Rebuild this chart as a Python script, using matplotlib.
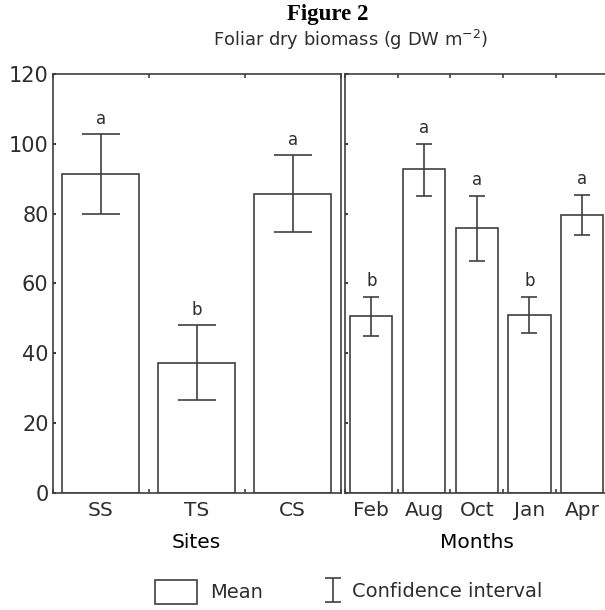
import matplotlib
matplotlib.use("Agg")
import matplotlib.pyplot as plt
from matplotlib.patches import Patch
from matplotlib.legend_handler import HandlerErrorbar
from matplotlib.container import ErrorbarContainer
import numpy as np

# data
sites = ["SS", "TS", "CS"]
site_mean = [91.3, 37.3, 85.7]
site_ci_low = [79.8, 26.7, 74.6]
site_ci_high = [102.7, 48.0, 96.7]
site_letters = ["a", "b", "a"]

months = ["Feb", "Aug", "Oct", "Jan", "Apr"]
month_mean = [50.5, 92.7, 75.8, 50.9, 79.5]
month_ci_low = [44.8, 85.1, 66.5, 45.7, 73.8]
month_ci_high = [56.2, 100.0, 85.1, 56.2, 85.3]
month_letters = ["b", "a", "a", "b", "a"]

col = "#3f3f3f"
txt = "#2e2e2e"
plt.rcParams["font.family"] = ["DejaVu Sans"]
plt.rcParams["text.color"] = txt
plt.rcParams["xtick.color"] = txt
plt.rcParams["ytick.color"] = txt

fig = plt.figure(figsize=(6.05, 6.10), dpi=100)
ax1 = fig.add_axes([0.0871, 0.1923, 0.476, 0.6864])
ax2 = fig.add_axes([0.5703, 0.1923, 0.4355, 0.6864])


def panel(ax, cats, mean, lo, hi, letters, capsize, xlabel):
    x = np.arange(len(cats))
    ax.bar(x, mean, width=0.8, facecolor="white", edgecolor=col, linewidth=1.2)
    yerr = [np.array(mean) - np.array(lo), np.array(hi) - np.array(mean)]
    eb = ax.errorbar(x, mean, yerr=yerr, fmt="none", ecolor=col,
                     elinewidth=1.2, capsize=capsize, capthick=1.2)
    for xi, h, t in zip(x, hi, letters):
        ax.text(xi, h + 4.5, t, ha="center", va="center", fontsize=12, color=txt)
    ax.set_xlim(-0.5, len(cats) - 0.5)
    ax.set_ylim(0, 120)
    ax.set_xticks(x)
    ax.set_xticklabels(cats, fontsize=14.5)
    ax.set_xticks(np.arange(len(cats) + 1) - 0.5, minor=True)
    ax.tick_params(axis="x", which="major", length=0, pad=6)
    ax.tick_params(axis="x", which="minor", length=3, direction="in",
                   top=True, bottom=True, width=1.2, color=col)
    ax.set_yticks(np.arange(0, 121, 20))
    ax.tick_params(axis="y", length=2, direction="in", width=1.5, color=col)
    ax.set_xlabel(xlabel, fontsize=14.5, labelpad=9)
    for s in ax.spines.values():
        s.set_color(col)
        s.set_linewidth(1.2)
    return eb


panel(ax1, sites, site_mean, site_ci_low, site_ci_high, site_letters, 13.7, "Sites")
eb = panel(ax2, months, month_mean, month_ci_low, month_ci_high, month_letters, 6, "Months")
ax1.tick_params(axis="y", labelsize=15, pad=3)
ax2.tick_params(axis="y", labelleft=False)

fig.text(0.542, 0.977, "Figure 2", ha="center", va="center", fontsize=16.5,
         fontweight="bold", family="Liberation Serif", color="black")
fig.text(0.58, 0.934, "Foliar dry biomass (g DW m$^{-2}$)", ha="center",
         va="center", fontsize=12.9, color=txt)

leg1 = fig.legend([Patch(facecolor="white", edgecolor=col, linewidth=1.2)], ["Mean"],
                  loc="center left", bbox_to_anchor=(0.256, 0.03), frameon=False,
                  fontsize=14, handlelength=2.16, handleheight=1.55,
                  handletextpad=0.7, borderpad=0, borderaxespad=0)
fig.legend([eb], ["Confidence interval"], loc="center left",
           bbox_to_anchor=(0.537, 0.03), frameon=False, fontsize=14,
           handlelength=0.85, handletextpad=0.55, borderpad=0, borderaxespad=0,
           handler_map={ErrorbarContainer: HandlerErrorbar(yerr_size=0.62)})

fig.savefig("out.png", dpi=100)
